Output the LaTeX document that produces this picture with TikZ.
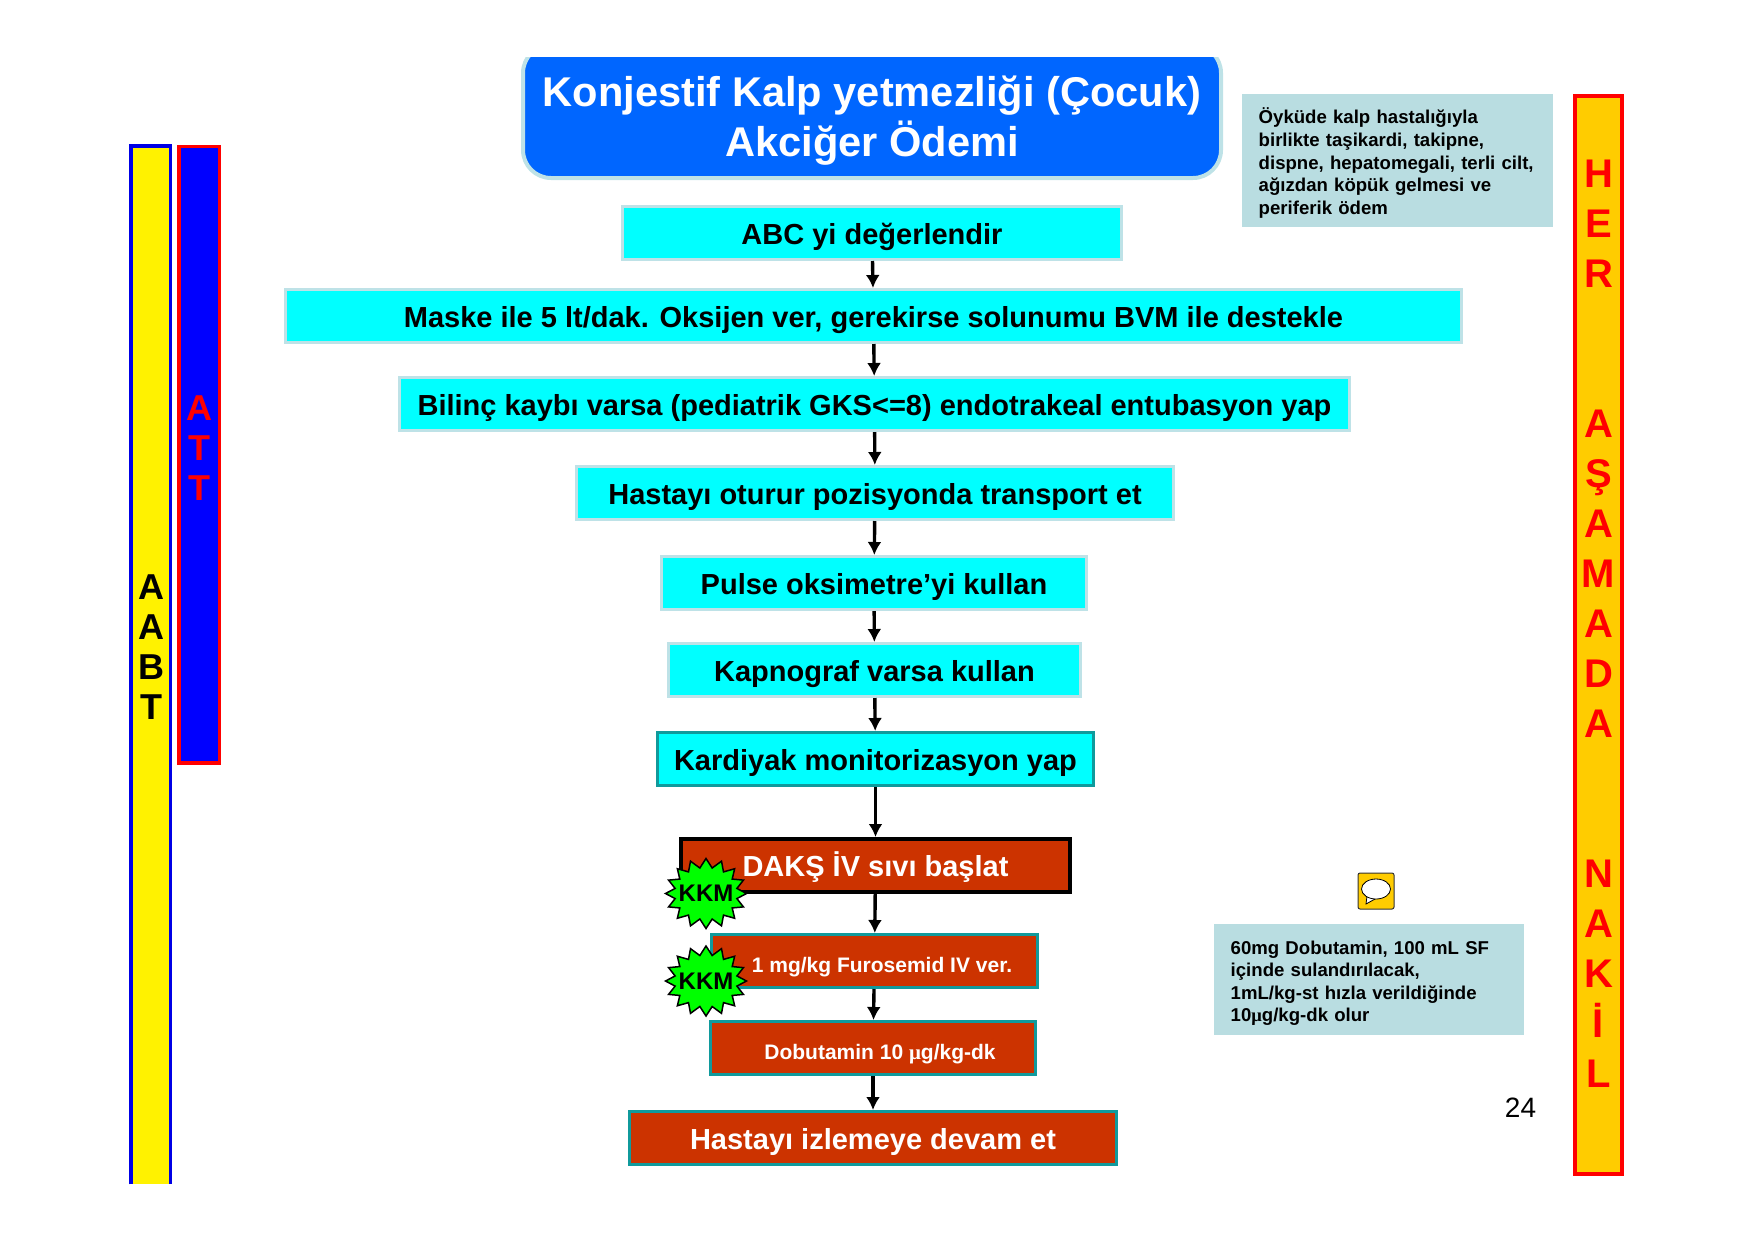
\documentclass[tikz,border=0pt]{standalone}
\usepackage{fontspec}
\setmainfont{Liberation Sans}
\newfontfamily\mufont{Liberation Serif}
\usetikzlibrary{positioning,arrows.meta,shapes.geometric,shapes.symbols}

\definecolor{boxcyan}{HTML}{00FFFF}
\definecolor{boxrim}{HTML}{BEE2E7}
\definecolor{boxbrick}{HTML}{CC3300}
\definecolor{boxteal}{HTML}{109A9C}
\definecolor{titleblue}{HTML}{0066FF}
\definecolor{notegray}{HTML}{B9DDE1}
\definecolor{naklgold}{HTML}{FFCC00}

\tikzset{
  stepbox/.style={rectangle, draw=boxrim, fill=boxcyan, line width=3pt,
    minimum height=53pt, inner sep=0pt, text=black, text height=22pt, text depth=0pt,
    font=\fontsize{29}{33}\selectfont\bfseries},
  drugbox/.style={stepbox, draw=boxteal, fill=boxbrick, text=white},
  notebox/.style={rectangle, fill=notegray, inner xsep=16.5pt, inner ysep=0pt,
    align=left, anchor=north west,
    font=\fontsize{18.6}{22.6}\selectfont\bfseries},
  kkmburst/.style={starburst, starburst points=16, starburst point height=9pt,
    random starburst=0, draw=black, fill=green, line width=1.5pt, inner sep=0pt,
    minimum width=81pt, minimum height=70pt,
    font=\fontsize{24}{26}\selectfont\bfseries},
  barletters/.style={align=center, inner sep=0pt, font=\bfseries},
  flow/.style={-{Latex[length=13pt,width=14pt]}, line width=3.4pt}
}

\begin{document}
\begin{tikzpicture}[x=1pt, y=-1pt]
   \useasboundingbox (0,0) rectangle (1755,1240);
   % side bars
   \node[rectangle, fill=yellow, minimum width=39.5pt, minimum height=1038pt,
         inner sep=0pt, anchor=north west] (aabt) at (130.75,146) {};
   \draw[blue!90!black, line width=3.5pt]
        (aabt.south west) -- (aabt.north west) -- (aabt.north east) -- (aabt.south east);
   \node[rectangle, draw=red, fill=blue, line width=3.5pt, minimum width=40.5pt,
         minimum height=616.5pt, inner sep=0pt, anchor=north west] (att) at (177,144.5) {};
   \node[rectangle, draw=red, fill=naklgold, line width=4pt, minimum width=47pt,
         minimum height=1078pt, inner sep=0pt, anchor=north west] (nakl) at (1573,94) {};
   \node[barletters, text=black, font=\fontsize{36}{40}\selectfont\bfseries] (aabttext)
        at (151.5,647) {A\\A\\B\\T};
   \node[barletters, text=red, font=\fontsize{36}{40}\selectfont\bfseries] (atttext)
        at (199,448) {A\\T\\T};
   \node[barletters, text=red, font=\fontsize{40}{50}\selectfont\bfseries] (nakltext)
        at (1598.5,624) {H\\E\\R\\[100pt]A\\Ş\\A\\M\\A\\D\\A\\[100pt]N\\A\\K\\İ\\L};

   % title
   \begin{scope}
      \clip (0,57) rectangle (1755,1240);
      \node[rectangle, rounded corners=28pt, draw=boxrim, fill=titleblue, line width=4pt,
            minimum width=698pt, minimum height=133pt, inner sep=0pt] (titlebox) at (872,111.5) {};
   \end{scope}
   \node[align=center, text=white, inner sep=0pt,
         font=\fontsize{41.6}{50}\selectfont\bfseries] (title) at (872,120.5)
        {Konjestif Kalp yetmezliği (Çocuk)\\Akciğer Ödemi};

   % flow
   \node[stepbox, minimum width=499pt] (abc) at (872,233) {ABC yi değerlendir};
   \node[stepbox, minimum width=1176pt, below=27pt of abc, xshift=1.5pt] (maske)
        {Maske ile 5 lt/dak. Oksijen ver, gerekirse solunumu BVM ile destekle};
   \node[stepbox, minimum width=950pt, below=32pt of maske, xshift=1pt] (bilinc)
        {Bilinç kaybı varsa (pediatrik GKS<=8) endotrakeal entubasyon yap};
   \node[stepbox, minimum width=597pt, below=33pt of bilinc, xshift=.5pt] (oturur)
        {Hastayı oturur pozisyonda transport et};
   \node[stepbox, minimum width=425pt, below=34pt of oturur, xshift=-1pt] (pulse)
        {Pulse oksimetre’yi kullan};
   \node[stepbox, minimum width=412pt, below=31pt of pulse, xshift=.5pt] (kapno)
        {Kapnograf varsa kullan};
   \node[stepbox, draw=boxteal, minimum width=436pt, below=33pt of kapno, xshift=1pt] (kardiyak)
        {Kardiyak monitorizasyon yap};
   \node[drugbox, draw=black, line width=4pt, minimum width=389pt, below=50pt of kardiyak] (daks)
        {DAKŞ İV sıvı başlat};
   \node[drugbox, minimum width=326pt, below=39pt of daks, xshift=-1pt,
         font=\fontsize{21}{26}\selectfont\bfseries] (furo)
        {\hspace*{15pt}1 mg/kg Furosemid IV ver.};
   \node[drugbox, minimum width=325pt, below=31pt of furo, xshift=-1.5pt,
         font=\fontsize{21}{26}\selectfont\bfseries] (dobu)
        {\hspace*{14pt}Dobutamin 10 {\mufont μ}g/kg-dk};
   \node[drugbox, minimum width=487pt, below=34pt of dobu] (izle)
        {Hastayı izlemeye devam et};

   \foreach \from/\to in {abc/maske,maske/bilinc,bilinc/oturur,oturur/pulse,pulse/kapno,
                          kapno/kardiyak,kardiyak/daks,daks/furo,furo/dobu,dobu/izle}
      \draw[flow] (\from) -- (\to);

   \node[kkmburst] (kkma) at (706,893.5) {\makebox[0pt]{KKM}};
   \node[kkmburst] (kkmb) at (706,981) {\makebox[0pt]{KKM}};

   % notes
   \node[notebox, minimum width=311pt, minimum height=133pt, text width=278pt] (oyku) at (1242,94)
        {\rule{0pt}{20.5pt}Öyküde kalp hastalığıyla\\birlikte taşikardi, takipne,\\dispne, hepatomegali, terli cilt,\\ağızdan köpük gelmesi ve\\periferik ödem};
   \node[notebox, minimum width=310pt, minimum height=111pt, text width=277pt] (dozu) at (1214,924)
        {\rule{0pt}{20.5pt}60mg Dobutamin, 100 mL SF\\içinde sulandırılacak,\\1mL/kg-st hızla verildiğinde\\10{\mufont μ}g/kg-dk olur};

   % note icon
   \node[rectangle, rounded corners=2pt, draw=black!80, fill=naklgold, line width=1pt,
         minimum size=36pt, inner sep=0pt] (icon) at (1376,891) {};
   \draw[fill=white, line width=.8pt] (1367,896) -- (1366,904) -- (1375,899) -- cycle;
   \node[ellipse, draw=black, fill=white, line width=.8pt, minimum width=29pt,
         minimum height=20pt, inner sep=0pt] (bubble) at (1376,889) {};

   \node[inner sep=0pt, font=\fontsize{28}{30}\selectfont] (page) at (1520.5,1108) {24};
\end{tikzpicture}
\end{document}
